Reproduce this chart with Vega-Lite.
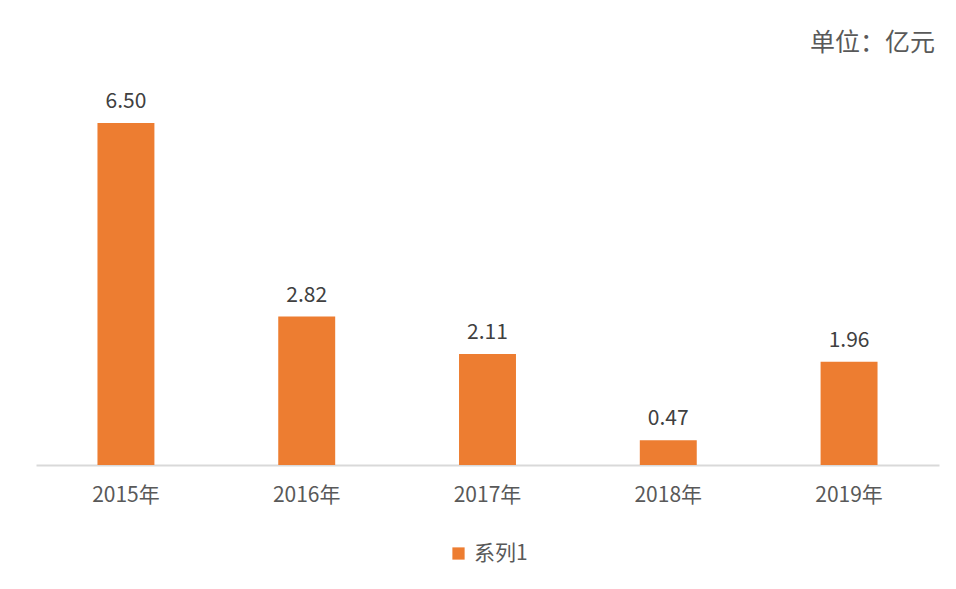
{
  "$schema": "https://vega.github.io/schema/vega-lite/v6.json",
  "autosize": "none",
  "width": 903,
  "height": 421,
  "padding": {"left": 36, "top": 44, "right": 17, "bottom": 124},
  "background": "white",
  "config": {
    "view": {"stroke": null},
    "font": "Noto Sans CJK SC"
  },
  "title": {
    "text": "单位：亿元",
    "anchor": "end",
    "fontSize": 25,
    "fontWeight": "normal",
    "color": "#595959",
    "baseline": "middle",
    "offset": -24,
    "dx": -4
  },
  "data": {
    "values": [
      {"year": "2015年", "value": 6.50, "series": "系列1"},
      {"year": "2016年", "value": 2.82, "series": "系列1"},
      {"year": "2017年", "value": 2.11, "series": "系列1"},
      {"year": "2018年", "value": 0.47, "series": "系列1"},
      {"year": "2019年", "value": 1.96, "series": "系列1"}
    ]
  },
  "encoding": {
    "x": {
      "field": "year",
      "type": "nominal",
      "sort": null,
      "scale": {"paddingInner": 0.685, "paddingOuter": 0.34},
      "axis": {
        "title": null,
        "labelAngle": 0,
        "labelFontSize": 21,
        "labelColor": "#595959",
        "labelPadding": 19,
        "ticks": false,
        "domainColor": "#d9d9d9",
        "domainWidth": 2
      }
    },
    "y": {
      "field": "value",
      "type": "quantitative",
      "scale": {"domain": [0, 8], "nice": false},
      "axis": null
    }
  },
  "layer": [
    {
      "mark": {"type": "bar", "color": "#ED7D31"},
      "encoding": {
        "color": {
          "field": "series",
          "type": "nominal",
          "scale": {"range": ["#ED7D31"]},
          "legend": {
            "title": null,
            "orient": "none",
            "legendX": 412,
            "legendY": 499,
            "symbolType": "square",
            "symbolSize": 150,
            "labelFontSize": 21,
            "labelColor": "#595959",
            "labelOffset": 5
          }
        }
      }
    },
    {
      "mark": {"type": "text", "baseline": "bottom", "dy": -11, "fontSize": 21, "color": "#404040"},
      "encoding": {
        "text": {"field": "value", "type": "quantitative", "format": ".2f"}
      }
    }
  ]
}
